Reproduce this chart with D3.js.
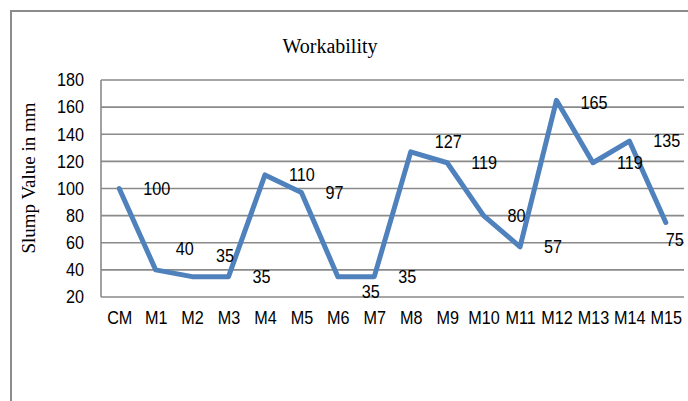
<!DOCTYPE html>
<html>
<head>
<meta charset="utf-8">
<script src="https://cdn.jsdelivr.net/npm/d3@7/dist/d3.min.js"></script>
<style>
  html, body { margin: 0; padding: 0; background: #fff; }
  svg { display: block; }
</style>
</head>
<body>
<svg id="chart" width="688" height="401"></svg>
<script>
// Slump test results per mix
const categories = ["CM", "M1", "M2", "M3", "M4", "M5", "M6", "M7", "M8", "M9", "M10", "M11", "M12", "M13", "M14", "M15"];
const slumpValues = [100, 40, 35, 35, 110, 97, 35, 35, 127, 119, 80, 57, 165, 119, 135, 75];
const yTicks = [20, 40, 60, 80, 100, 120, 140, 160, 180];
const chartTitle = "Workability";
const yAxisTitle = "Slump Value in mm";

// Hand-placed data label nudges [dx, dy] so overlapping labels stay readable
const labelNudge = [
  [0, 0], [-4, -21], [0, -21], [0, 0], [0, 0], [0, 0], [0, 15], [0, 0],
  [0, -10], [0, 0], [0, 0], [0, 0], [0, 2], [0, 0], [0, 0], [-24, 17]
];

const svg = d3.select("#chart");
const W = 688, H = 401;
const plot = { left: 101, right: 684, top: 80, bottom: 297 };

// Narrow sans look: regular sans compressed horizontally
const sans = "'Liberation Sans Narrow', 'Arial Narrow', 'Liberation Sans', Arial, sans-serif";
const narrow = 0.9;
const serif = "'Liberation Serif', 'Times New Roman', serif";

// Outer chart frame (left and top edges visible)
svg.append("path")
  .attr("d", `M11,${H} L11,11 L${W},11`)
  .attr("fill", "none")
  .attr("stroke", "#8c8c8c")
  .attr("stroke-width", 2);

const x = d3.scalePoint()
  .domain(categories)
  .range([plot.left, plot.right])
  .padding(0.5);

const y = d3.scaleLinear()
  .domain([20, 180])
  .range([plot.bottom, plot.top]);

// Horizontal gridlines
svg.append("g")
  .selectAll("line")
  .data(yTicks)
  .join("line")
  .attr("x1", plot.left)
  .attr("x2", plot.right)
  .attr("y1", d => y(d))
  .attr("y2", d => y(d))
  .attr("stroke", "#8a8a8a")
  .attr("stroke-width", 1.6);

// Left axis line
svg.append("line")
  .attr("x1", plot.left).attr("x2", plot.left)
  .attr("y1", plot.top).attr("y2", plot.bottom)
  .attr("stroke", "#8a8a8a")
  .attr("stroke-width", 1.6);

// Y axis tick labels
const yAxis = d3.axisLeft(y).tickValues(yTicks).tickSize(0).tickPadding(17 / narrow);
const gy = svg.append("g")
  .attr("transform", `translate(${plot.left},0)`)
  .call(yAxis);
gy.select(".domain").remove();
gy.selectAll("text")
  .attr("transform", `scale(${narrow},1)`)
  .attr("font-family", sans)
  .attr("font-size", 18)
  .attr("fill", "#000");

// X axis tick labels
const xAxis = d3.axisBottom(x).tickSize(0).tickPadding(14);
const gx = svg.append("g")
  .attr("transform", `translate(0,${plot.bottom})`)
  .call(xAxis);
gx.select(".domain").remove();
gx.selectAll("text")
  .attr("transform", `scale(${narrow},1)`)
  .attr("font-family", sans)
  .attr("font-size", 18)
  .attr("fill", "#000");

// Chart title
svg.append("text")
  .attr("x", 330)
  .attr("y", 53)
  .attr("text-anchor", "middle")
  .attr("font-family", serif)
  .attr("font-size", 20)
  .attr("fill", "#000")
  .text(chartTitle);

// Y axis title
svg.append("text")
  .attr("transform", "translate(35,178) rotate(-90)")
  .attr("text-anchor", "middle")
  .attr("font-family", serif)
  .attr("font-size", 19)
  .attr("fill", "#000")
  .text(yAxisTitle);

// Data line
const line = d3.line()
  .x((d, i) => x(categories[i]))
  .y(d => y(d));

svg.append("path")
  .datum(slumpValues)
  .attr("d", line)
  .attr("fill", "none")
  .attr("stroke", "#4f81bd")
  .attr("stroke-width", 5)
  .attr("stroke-linejoin", "round")
  .attr("stroke-linecap", "round");

// Data labels, placed to the right of each point
svg.append("g")
  .selectAll("text")
  .data(slumpValues)
  .join("text")
  .attr("transform", (d, i) =>
    `translate(${x(categories[i]) + 24 + labelNudge[i][0]},${y(d) + labelNudge[i][1]}) scale(${narrow},1)`)
  .attr("dy", "0.35em")
  .attr("font-family", sans)
  .attr("font-size", 18)
  .attr("fill", "#000")
  .text(d => d);
</script>
</body>
</html>
